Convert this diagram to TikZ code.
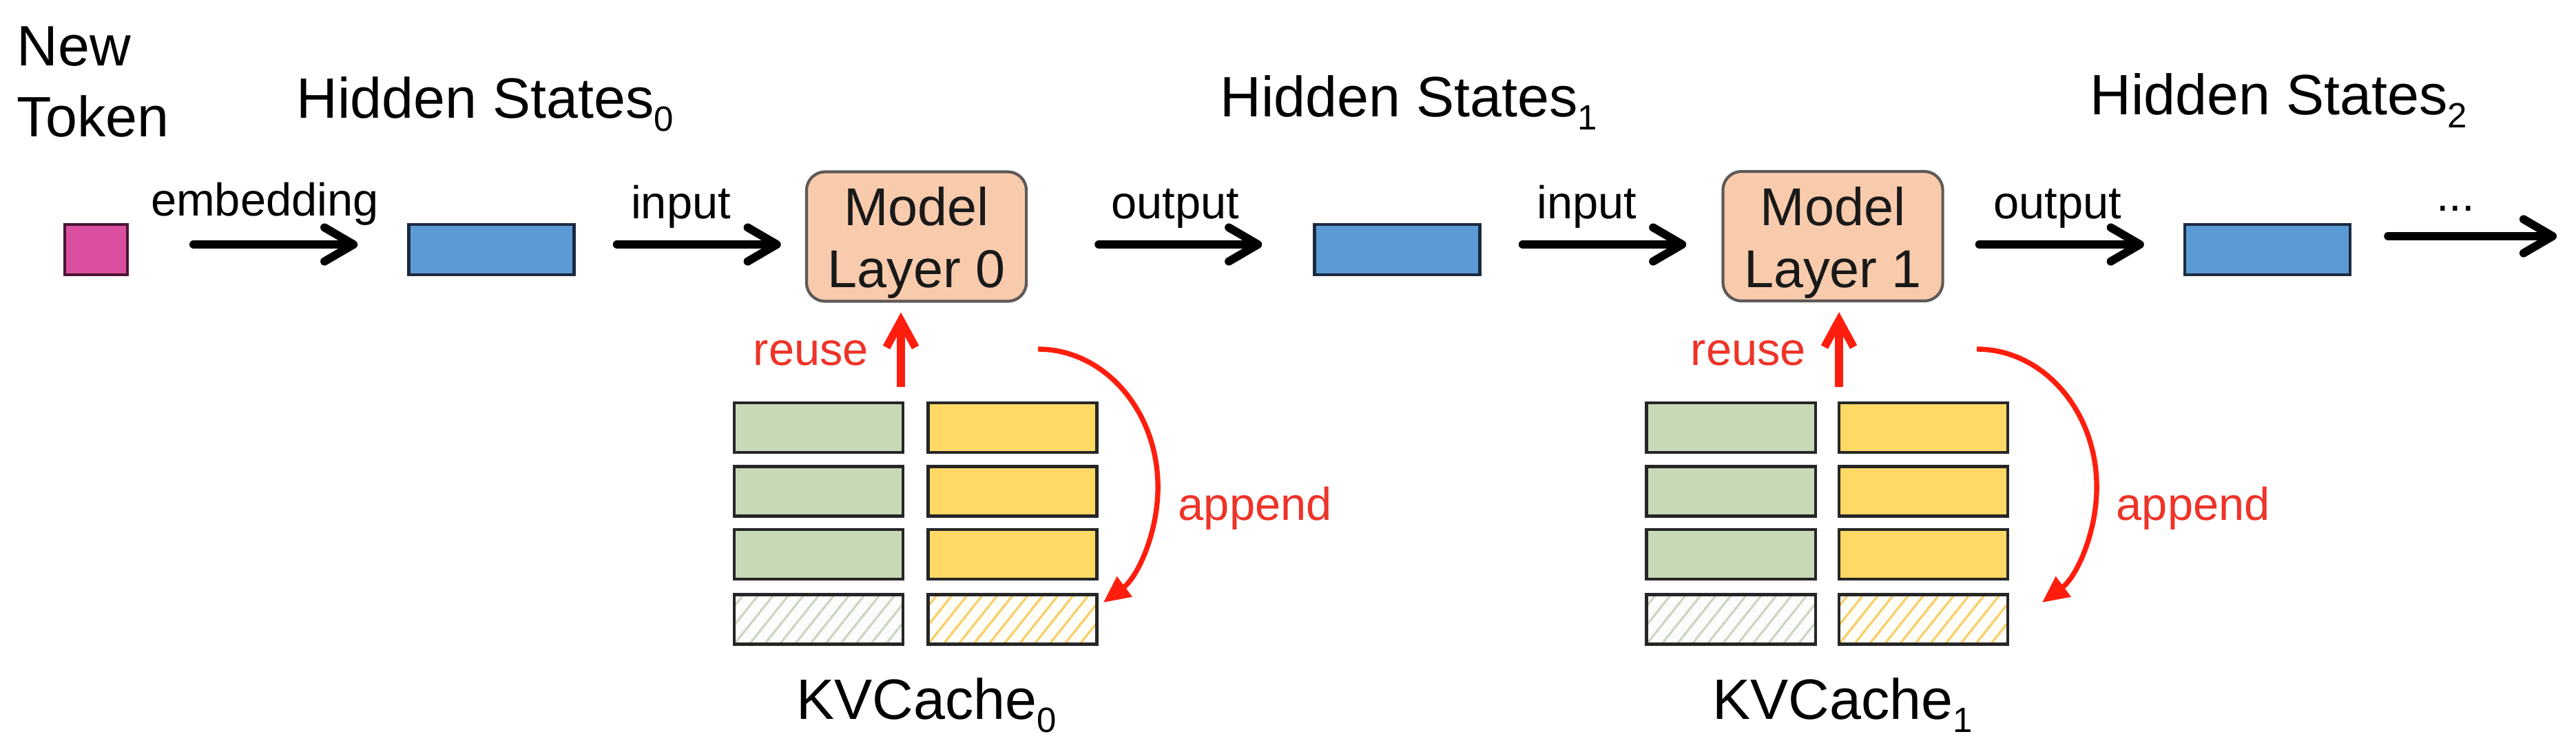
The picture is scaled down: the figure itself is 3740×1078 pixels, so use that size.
\documentclass[tikz,border=0pt]{standalone}
\usepackage{fontspec}
\setmainfont{Liberation Sans}
\usetikzlibrary{arrows.meta}
\definecolor{tokpink}{HTML}{DA4FA0}
\definecolor{tokborder}{HTML}{4A1432}
\definecolor{hsblue}{HTML}{5B9BD5}
\definecolor{hsborder}{HTML}{1C2A40}
\definecolor{layerfill}{HTML}{F8CBAD}
\definecolor{layerborder}{HTML}{5E5A58}
\definecolor{kgreen}{HTML}{C8D9B7}
\definecolor{vyellow}{HTML}{FFD966}
\definecolor{arrred}{HTML}{FF1E0E}
\definecolor{txtred}{HTML}{EE3328}
\definecolor{hatchgreen}{HTML}{CBD5C3}
\definecolor{hatchyellow}{HTML}{F7CF66}
\definecolor{kvborder}{HTML}{262626}
\newcommand{\mysub}[1]{\raisebox{-5.5pt}{\fontsize{14.5pt}{14.5pt}\selectfont #1}}
\tikzset{
  bigtxt/.style={font=\fontsize{23.5pt}{28pt}\selectfont, inner sep=0pt},
  smalltxt/.style={font=\fontsize{19pt}{23pt}\selectfont, inner sep=0pt},
  redtxt/.style={smalltxt, text=txtred},
  layertxt/.style={font=\fontsize{22pt}{25.6pt}\selectfont, inner sep=0pt, align=center, text=black!90},
  tokbox/.style={draw=tokborder, line width=1.1pt, fill=tokpink, minimum width=0.91cm, minimum height=0.73cm, inner sep=0pt},
  hsbox/.style={draw=hsborder, line width=1.2pt, fill=hsblue, minimum width=2.4cm, minimum height=0.73cm, inner sep=0pt},
  layerbox/.style={draw=layerborder, line width=1.2pt, fill=layerfill, rounded corners=0.27cm, minimum width=3.19cm, minimum height=1.88cm, inner sep=0pt},
  kcell/.style={draw=kvborder, line width=1.2pt, fill=kgreen, minimum width=2.45cm, minimum height=0.72cm, inner sep=0pt},
  vcell/.style={draw=kvborder, line width=1.2pt, fill=vyellow, minimum width=2.45cm, minimum height=0.72cm, inner sep=0pt},
  hatchcell/.style={path picture={\foreach \t in {-5,...,12}{\draw[#1, line width=0.9pt] ([xshift=\t*0.22cm]path picture bounding box.south west) -- ++(0.72cm,0.9cm);}}},
  knew/.style={kcell, fill=white!95!kgreen, hatchcell=hatchgreen},
  vnew/.style={vcell, fill=white!95!vyellow, hatchcell=hatchyellow},
  flowarrow/.style={draw=black, line width=3.4pt, line cap=round, -{Straight Barb[length=12pt,width=14pt,round]}},
  reusearrow/.style={draw=arrred, line width=3.3pt, -{Straight Barb[length=11pt,width=12pt]}},
  appendarrow/.style={draw=arrred, line width=2.1pt, -{Triangle[length=11pt,width=10pt]}}
}
\begin{document}
\begin{tikzpicture}[x=0.01cm, y=-0.01cm]
\fill[white] (0,0) rectangle (3740,1078);
\useasboundingbox (0,0) rectangle (3740,1078);

% titles
\node[bigtxt, anchor=base west] (newtxt) at (24,95) {New};
\node[bigtxt, anchor=base west] (toktxt) at (24,198) {Token};
\node[bigtxt, anchor=base west] (hst0) at (430,171) {Hidden States\mysub{0}};
\node[bigtxt, anchor=base west] (hst1) at (1771,169) {Hidden States\mysub{1}};
\node[bigtxt, anchor=base west] (hst2) at (3034,166) {Hidden States\mysub{2}};

% main row
\node[tokbox] (tok) at (139.5,362.5) {};
\node[hsbox] (hs0) at (713.5,362.5) {};
\node[hsbox] (hs1) at (2028.5,362.5) {};
\node[hsbox] (hs2) at (3292,362.5) {};
\node[layerbox, label={[layertxt, yshift=-0.09cm]center:{Model\\Layer 0}}] (ml0) at (1330.5,343.5) {};
\node[layerbox, label={[layertxt, yshift=-0.09cm]center:{Model\\Layer 1}}] (ml1) at (2661,343) {};

\coordinate (lineY) at (0,355);
\coordinate (fend) at (3712,343);

\draw[flowarrow, shorten <=0.94cm, shorten >=0.72cm] (tok.east |- lineY) -- (hs0.west |- lineY);
\draw[flowarrow, shorten <=0.60cm, shorten >=0.35cm] (hs0.east |- lineY) -- (ml0.west |- lineY);
\draw[flowarrow, shorten <=1.03cm, shorten >=0.74cm] (ml0.east |- lineY) -- (hs1.west |- lineY);
\draw[flowarrow, shorten <=0.60cm, shorten >=0.51cm] (hs1.east |- lineY) -- (ml1.west |- lineY);
\draw[flowarrow, shorten <=0.51cm, shorten >=0.57cm] (ml1.east |- lineY) -- (hs2.west |- lineY);
\draw[flowarrow, shorten <=0.53cm] (hs2.east |- fend) -- (fend);

\node[smalltxt, anchor=base] (lemb) at (384.5,313) {embedding};
\node[smalltxt, anchor=base] (lin0) at (988.5,317) {input};
\node[smalltxt, anchor=base] (lout0) at (1706.5,317) {output};
\node[smalltxt, anchor=base] (lin1) at (2304,317) {input};
\node[smalltxt, anchor=base] (lout1) at (2987,317) {output};
\node[smalltxt, anchor=base] (ldots) at (3565,306) {...};

% KV cache 0
\node[kcell] (k0a) at (1188.5,621) {};
\node[kcell] (k0b) at (1188.5,713.5) {};
\node[kcell] (k0c) at (1188.5,805) {};
\node[knew]  (k0d) at (1188.5,899.5) {};
\node[vcell] (v0a) at (1470,621) {};
\node[vcell] (v0b) at (1470,713.5) {};
\node[vcell] (v0c) at (1470,805) {};
\node[vnew]  (v0d) at (1470,899.5) {};

% KV cache 1
\node[kcell] (k1a) at (2513,621) {};
\node[kcell] (k1b) at (2513,713.5) {};
\node[kcell] (k1c) at (2513,805) {};
\node[knew]  (k1d) at (2513,899.5) {};
\node[vcell] (v1a) at (2792.5,621) {};
\node[vcell] (v1b) at (2792.5,713.5) {};
\node[vcell] (v1c) at (2792.5,805) {};
\node[vnew]  (v1d) at (2792.5,899.5) {};

% reuse arrows
\coordinate (r0s) at (1308,562);
\coordinate (r1s) at (2670,562);
\draw[reusearrow, shorten >=0.14cm] (r0s) -- (r0s |- ml0.south);
\draw[reusearrow, shorten >=0.14cm] (r1s) -- (r1s |- ml1.south);
\node[redtxt, anchor=base] (lre0) at (1177.5,530) {reuse};
\node[redtxt, anchor=base] (lre1) at (2538.5,530) {reuse};

% append arrows
\coordinate (a0s) at (1507,507);
\coordinate (a1s) at (2870,507);
\draw[appendarrow] (a0s) arc[start angle=90, end angle=-57, x radius=1.74cm, y radius=2cm];
\draw[appendarrow] (a1s) arc[start angle=90, end angle=-57, x radius=1.74cm, y radius=2cm];
\node[redtxt, anchor=base west] (lap0) at (1710,755) {append};
\node[redtxt, anchor=base west] (lap1) at (3072,755) {append};

% cache labels
\node[bigtxt, anchor=base west] (kvc0) at (1156,1044) {KVCache\mysub{0}};
\node[bigtxt, anchor=base west] (kvc1) at (2486,1044) {KVCache\mysub{1}};
\end{tikzpicture}
\end{document}
